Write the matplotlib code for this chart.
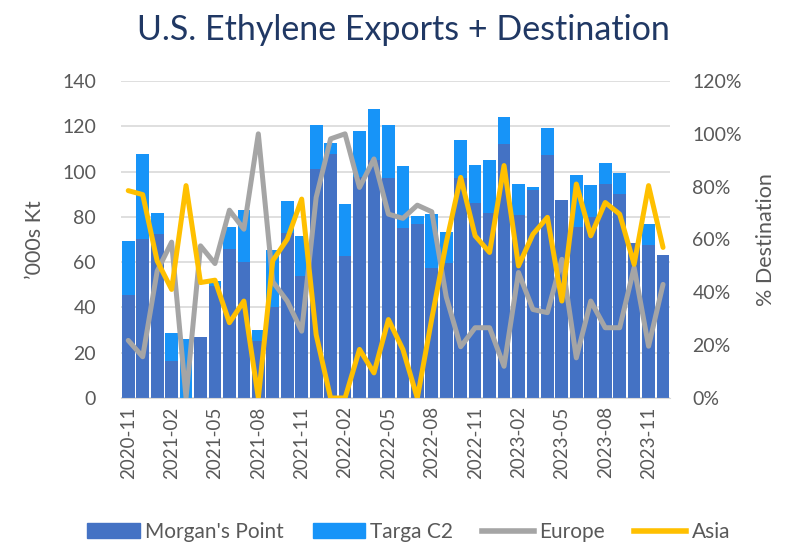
import numpy as np
import pandas as pd
import matplotlib
matplotlib.use("Agg")
import matplotlib.pyplot as plt
from matplotlib.patches import Patch
from matplotlib.lines import Line2D

plt.rcParams['font.family'] = ['Lato', 'DejaVu Sans']

months = [p.strftime('%Y-%m') for p in pd.period_range('2020-11', '2023-12', freq='M')]

# '000s Kt
morgans_point = [45.5, 70.4, 72.6, 16.5, 0, 26.8, 49.3, 65.9, 60, 25.2,
                 40.3, 73, 53.8, 101, 107.7, 62.7, 97.8, 105, 97.3, 75.2,
                 77, 57.3, 59.5, 97, 85.9, 81.9, 112.1, 80.6, 91.9, 107.4,
                 87.4, 75.3, 79.9, 94.4, 89.9, 68.6, 67.6, 63.0]
targa_c2 = [23.7, 37.2, 9.3, 12.1, 25.9, 0, 2.3, 9.4, 23, 5,
            24.9, 14.1, 17.9, 19.4, 4.9, 23.1, 20.2, 22.6, 23.4, 27.3,
            3.5, 24, 14, 17.1, 17.2, 23.1, 12, 14.1, 1.3, 12,
            0, 23.2, 14.2, 9.5, 9.5, 0, 9.1, 0]

# % destination
europe = [21.8, 15.6, 48, 59, 0, 57.6, 50.9, 71.1, 63.9, 100,
          44, 36.7, 25.3, 75.9, 98.1, 100, 79.7, 90.5, 69.6, 68,
          73, 70.5, 38.3, 19.4, 26.6, 26.6, 12, 47.5, 33.5, 32.3,
          52.5, 15.2, 36.7, 26.6, 26.6, 49.4, 19.6, 43]
asia = [78.5, 77, 51.9, 41.1, 80.4, 43.7, 44.6, 28.5, 36.7, 0,
        52, 60.1, 75.3, 24, 0, 0, 18.4, 9.5, 29.7, 18.4,
        0, 30, 58.8, 83.5, 61.4, 55.1, 88, 50, 62, 68.4,
        36.7, 81, 61.4, 74, 69.6, 50.6, 80.4, 57]

c_mp = '#4472C4'
c_targa = '#1794F8'
c_eu = '#A5A5A5'
c_asia = '#FFC000'
txt = '#595959'

x = np.arange(len(months))

fig = plt.figure(figsize=(8.03, 5.44), dpi=100)
ax = fig.add_axes([0.1507, 0.2684, 0.684, 0.5827])

ax.bar(x, morgans_point, width=0.88, color=c_mp, zorder=2)
ax.bar(x, targa_c2, width=0.88, bottom=morgans_point, color=c_targa, zorder=2)

ax.set_ylim(0, 140)
ax.set_yticks(range(0, 141, 20))
ax.set_xlim(-0.5, len(months) - 0.5)
ax.set_xticks(x[::3])
ax.set_xticklabels(months[::3], rotation=90)
ax.grid(axis='y', color='#D9D9D9', linewidth=1.2, zorder=0)
ax.set_axisbelow(True)
for s in ['top', 'right', 'left']:
    ax.spines[s].set_visible(False)
ax.spines['bottom'].set_color('#D9D9D9')
ax.tick_params(length=0, labelsize=13.5, labelcolor=txt)
ax.tick_params(axis='x', pad=6)
ax.tick_params(axis='y', pad=18, labelsize=14)
ax.set_ylabel("\u2019000s Kt", fontsize=15.5, color=txt, labelpad=12)

ax2 = ax.twinx()
ax2.plot(x, europe, color=c_eu, lw=3.6, solid_joinstyle='round', solid_capstyle='round')
ax2.plot(x, asia, color=c_asia, lw=3.6, solid_joinstyle='round', solid_capstyle='round')
ax2.set_ylim(0, 120)
ax2.set_yticks(range(0, 121, 20))
ax2.set_yticklabels([f'{v}%' for v in range(0, 121, 20)])
for s in ax2.spines.values():
    s.set_visible(False)
ax2.tick_params(length=0, labelsize=14, labelcolor=txt, pad=16)
ax2.set_ylabel('% Destination', fontsize=15.5, color=txt, labelpad=10)

fig.suptitle('U.S. Ethylene Exports + Destination', x=0.502, y=0.975,
             fontsize=24.5, color='#203864')

handles = [Patch(color=c_mp), Patch(color=c_targa),
           Line2D([], [], color=c_eu, lw=4), Line2D([], [], color=c_asia, lw=4)]
labels = ["Morgan's Point", 'Targa C2', 'Europe', 'Asia']
leg = fig.legend(handles, labels, loc='center', bbox_to_anchor=(0.509, 0.022), ncol=4,
                 frameon=False, fontsize=15, handlelength=2.5, handletextpad=0.25,
                 columnspacing=1.4)
for t in leg.get_texts():
    t.set_color(txt)

fig.savefig('out.png', dpi=100)
